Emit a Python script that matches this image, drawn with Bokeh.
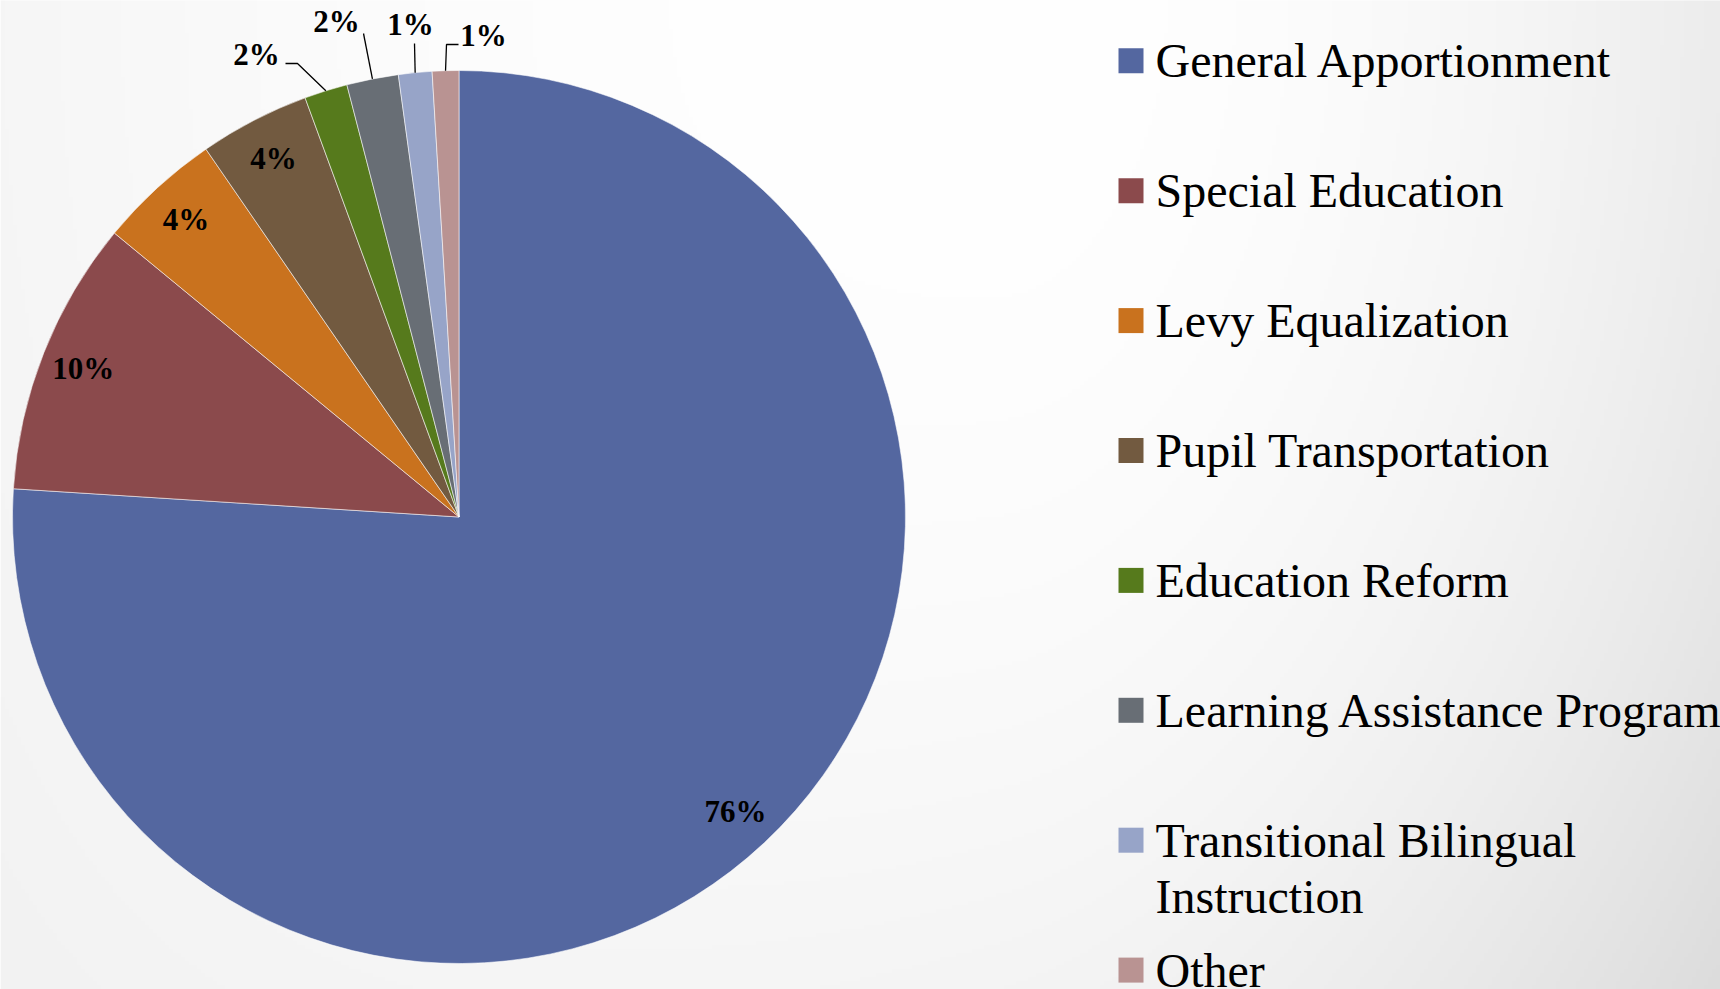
import numpy as np
from bokeh.plotting import figure
from bokeh.models import Range1d, ColumnDataSource
from bokeh.core.properties import value
from bokeh.embed import file_html
from bokeh.resources import INLINE

# ---------------- data ----------------
categories = ["General Apportionment", "Special Education", "Levy Equalization",
              "Pupil Transportation", "Education Reform", "Learning Assistance Program",
              "Transitional Bilingual\nInstruction", "Other"]
shares = [76.0, 9.96, 4.44, 3.99, 1.56, 1.87, 1.21, 0.96]
pct_labels = ["76%", "10%", "4%", "4%", "2%", "2%", "1%", "1%"]
colors = ["#5467A0", "#8B4A4C", "#C9721E", "#725A40", "#567A1C", "#686E75", "#97A4C8", "#B99392"]

# ---------------- layout ----------------
W, H = 1720, 989
OFF = 0
def dx(X): return X - OFF
def dy(Y): return (H + OFF) - Y

CX, CY, R = dx(458.5), dy(516.5), 446.5
INSIDE_R = 0.905
# outside labels: (text offset, leader path offsets) relative to pie centre, in px (y up)
outside_layout = {
    4: ((-202.5, 462.5), [(-161.5, 453.5), (-173.5, 453.5)]),
    5: ((-122.5, 495.5), [(-95.5, 483.5)]),
    6: ((-48.5, 492.5), [(-44.5, 473.5)]),
    7: ((24.5, 481.5), [(-12.5, 472.5), (-0.5, 472.5)]),
}

p = figure(width=W, height=H, x_range=Range1d(0, W), y_range=Range1d(0, H),
           output_backend="svg", toolbar_location=None, min_border=0,
           x_axis_type=None, y_axis_type=None)
p.grid.visible = False
p.outline_line_color = None
p.background_fill_color = "white"
p.border_fill_color = "white"

# ---------------- background gradient ----------------
step = 4
ws, hs = W // step + 1, H // step + 1
xs = (np.arange(ws) * step + OFF).astype(float)            # reference X
ys = (H + OFF - np.arange(hs) * step).astype(float)         # reference Y (row 0 = bottom)
XX, YY = np.meshgrid(xs, ys)
Dx = np.where(XX < 1000, 9 * ((1000 - XX) / 1000) ** 2, 19 * ((XX - 1000) / 720) ** 2)
w = YY / 989
dark = Dx + w ** 2 * (4 + 12 * XX / 1720)
g = np.clip(255 - dark, 0, 255).astype(np.uint8)
img = np.empty((hs, ws), dtype=np.uint32)
view = img.view(dtype=np.uint8).reshape((hs, ws, 4))
view[:, :, 0] = g
view[:, :, 1] = g
view[:, :, 2] = g
view[:, :, 3] = 255
p.image_rgba(image=[img], x=0, y=0, dw=ws * step, dh=hs * step)

# ---------------- pie ----------------
fr = np.array(shares) / sum(shares)
cum = np.concatenate([[0], np.cumsum(fr)])
a = np.pi / 2 - 2 * np.pi * cum
src = ColumnDataSource(dict(start=a[1:], end=a[:-1], color=colors, cat=categories))
p.wedge(x=CX, y=CY, radius=R, start_angle="start", end_angle="end", direction="anticlock",
        fill_color="color", line_color="white", line_width=1, line_alpha=0.55, source=src)

mid = (a[1:] + a[:-1]) / 2
lab_x, lab_y, lab_t = [], [], []
lx, ly = [], []
for i, t in enumerate(pct_labels):
    if i in outside_layout:
        (tx, ty), path = outside_layout[i]
        lab_x.append(CX + tx); lab_y.append(CY + ty); lab_t.append(t)
        px = [CX + R * np.cos(mid[i])] + [CX + ox for ox, oy in path]
        py = [CY + R * np.sin(mid[i])] + [CY + oy for ox, oy in path]
        lx.append(px); ly.append(py)
    else:
        lab_x.append(CX + INSIDE_R * R * np.cos(mid[i]))
        lab_y.append(CY + INSIDE_R * R * np.sin(mid[i]))
        lab_t.append(t)
p.multi_line(xs=lx, ys=ly, line_color="black", line_width=1.3)
p.text(x=lab_x, y=lab_y, text=lab_t, text_font=value("Liberation Serif"),
       text_font_style="bold", text_font_size="31px", text_color="black",
       text_align="center", text_baseline="middle")

# ---------------- legend ----------------
leg_top, leg_step = dy(60.3), 129.9
sq_x, txt_x = dx(1130.5), dx(1155)
rows_y = [leg_top - i * leg_step for i in range(len(categories))]
p.rect(x=[sq_x] * len(categories), y=rows_y, width=25, height=25, fill_color=colors, line_color=None)
p.text(x=[txt_x] * len(categories), y=[v + 26.5 for v in rows_y], text=categories,
       text_font=value("Liberation Serif"), text_font_size="48px", text_color="black",
       text_align="left", text_baseline="top", text_line_height=1.06)

open("out.html", "w").write(file_html(p, INLINE))
